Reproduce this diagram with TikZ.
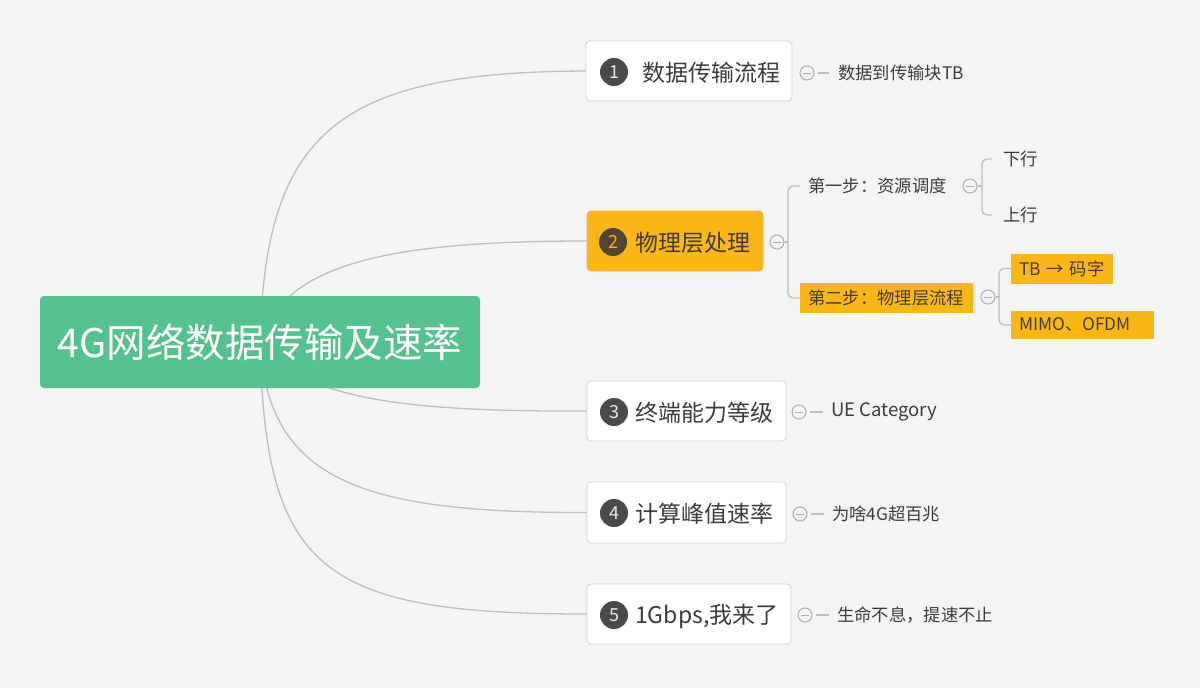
\documentclass[tikz,border=0pt]{standalone}
\usepackage{fontspec}
\setmainfont{Noto Sans CJK SC}
\usetikzlibrary{calc}
\pgfdeclarelayer{bg}
\pgfsetlayers{bg,main}
\definecolor{bgc}{HTML}{F4F4F4}
\definecolor{linec}{HTML}{BDBDBD}
\definecolor{rootg}{HTML}{54C18E}
\definecolor{orng}{HTML}{FDB714}
\definecolor{orngb}{HTML}{F2B44A}
\definecolor{txt}{HTML}{3C3C3C}
\definecolor{numc}{HTML}{4A4A4A}
\definecolor{numtwo}{HTML}{4E4535}
\definecolor{boxb}{HTML}{D4D4D4}
\definecolor{iconc}{HTML}{ADADAD}
\begin{document}
\begin{tikzpicture}[x=1pt,y=-1pt,
  mainbox/.style={draw=boxb, fill=white, rounded corners=4pt, line width=0.8pt, minimum height=60pt, inner sep=0pt},
  numcirc/.style={circle, fill=numc, minimum size=28pt, inner sep=0pt, text=white!92!black, font=\fontsize{18}{18}\selectfont},
  maintxt/.style={anchor=west, inner sep=0pt, text=txt, font=\fontsize{23}{23}\selectfont},
  leaf/.style={anchor=west, inner sep=0pt, text=txt, font=\fontsize{17.3}{17.3}\selectfont},
  hlbox/.style={anchor=west, fill=orng, inner xsep=8pt, inner ysep=0pt, minimum height=30pt, text=txt, align=left, font=\fontsize{17.3}{17.3}\selectfont},
  collapse/.style={circle, draw=iconc, line width=1pt, fill=bgc, minimum size=14pt, inner sep=0pt,
    path picture={\draw[iconc, line width=1pt] ([xshift=-4pt]path picture bounding box.center) -- ([xshift=4pt]path picture bounding box.center);}},
  conn/.style={draw=linec, line width=1.3pt},
  bconn/.style={draw=linec, line width=1.3pt, rounded corners=5pt}
]
\begin{pgfonlayer}{bg}
\fill[bgc] (0,0) rectangle (1200,688);
\end{pgfonlayer}

% root
\node[fill=rootg, rounded corners=4pt, minimum width=440pt, minimum height=92pt, inner sep=0pt,
  text=white, font=\fontsize{39.5}{40}\selectfont] (root) at (260,342) {4G网络数据传输及速率};

% main nodes
\node[mainbox, minimum width=206pt] (n1) at (689,71) {};
\node[mainbox, minimum width=176pt, fill=orng, draw=orngb] (n2) at (675,241) {};
\node[mainbox, minimum width=199pt] (n3) at (686.5,411) {};
\node[mainbox, minimum width=199pt, minimum height=61pt] (n4) at (686.5,512.5) {};
\node[mainbox, minimum width=204pt] (n5) at (689,614) {};

\node[numcirc] (c1) at (614,72) {1};
\node[numcirc, fill=numtwo, text=orng] (c2) at (613,242) {2};
\node[numcirc] (c3) at (614,412) {3};
\node[numcirc] (c4) at (614,513) {4};
\node[numcirc] (c5) at (614,615) {5};

\node[maintxt] (t1) at (642,73) {数据传输流程};
\node[maintxt] (t2) at (635,243) {物理层处理};
\node[maintxt] (t3) at (635,413) {终端能力等级};
\node[maintxt] (t4) at (635,514) {计算峰值速率};
\node[maintxt] (t5) at (635,616) {1Gbps,我来了};

% collapse icons
\node[collapse] (k1) at (807,73) {};
\node[collapse] (k2) at (777,242) {};
\node[collapse] (k3) at (799,412) {};
\node[collapse] (k4) at (800,514) {};
\node[collapse] (k5) at (805,615) {};

% leaves
\node[leaf] (l1) at (838,73) {数据到传输块TB};
\node[leaf, font=\fontsize{18.5}{18.5}\selectfont] (l3) at (831,412) {UE Category};
\node[leaf] (l4) at (832,514) {为啥4G超百兆};
\node[leaf] (l5) at (837,615) {生命不息，提速不止};

\draw[conn, shorten <=3pt, shorten >=9pt] (k1.east) -- (l1.west);
\draw[conn, shorten <=3pt, shorten >=8pt] (k3.east) -- (l3.west);
\draw[conn, shorten <=3pt, shorten >=8pt] (k4.east) -- (l4.west);
\draw[conn, shorten <=3pt, shorten >=8pt] (k5.east) -- (l5.west);

% node 2 children
\node[leaf] (s1) at (808,186) {第一步：资源调度};
\node[hlbox, text width=157pt] (s2) at (800,298) {第二步：物理层流程};
\coordinate (b2) at (788,242);
\draw[conn] (k2.east) -- (b2);
\draw[bconn] ([xshift=-8pt]s1.west) -| (b2) |- (s2.west);

\node[collapse] (k6) at (970,186) {};
\node[leaf] (d1) at (1003,159) {下行};
\node[leaf] (d2) at (1003,215) {上行};
\coordinate (b6) at (982,186);
\draw[conn] (k6.east) -- (b6);
\draw[bconn] ([xshift=-11pt]d1.west) -| (b6) |- ([xshift=-11pt]d2.west);

\node[collapse] (k7) at (988,297) {};
\node[hlbox, text width=86pt] (e1) at (1011,268.5) {TB → 码字};
\node[hlbox, text width=127pt, minimum height=28pt] (e2) at (1011,325) {MIMO、OFDM};
\coordinate (b7) at (999,297);
\draw[conn] (k7.east) -- (b7);
\draw[bconn] (e1.west) -| (b7) |- (e2.west);

% root connectors
\begin{pgfonlayer}{bg}
\draw[conn] (root.center) .. controls (265,130) and (340,72) .. (n1.west);
\draw[conn] (root.center) .. controls (284,266) and (380,241) .. (n2.west);
\draw[conn] (root.center) .. controls (300,398) and (400,412) .. (n3.west);
\draw[conn] (root.center) .. controls (268,480) and (360,513) .. (n4.west);
\draw[conn] (root.center) .. controls (265,570) and (320,614) .. (n5.west);
\end{pgfonlayer}
\end{tikzpicture}
\end{document}
